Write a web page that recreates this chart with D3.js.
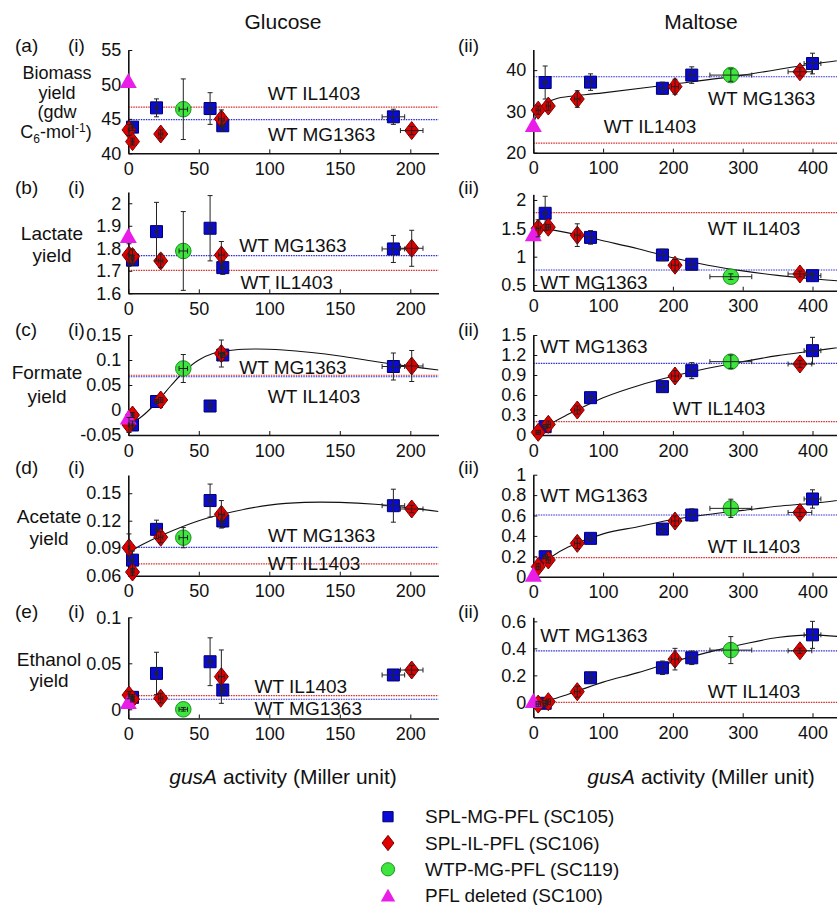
<!DOCTYPE html>
<html>
<head>
<meta charset="utf-8">
<script src="https://cdn.jsdelivr.net/npm/d3@7"></script>
<style>
  body { margin: 0; background: #fff; }
  text { font-family: Arial, "Liberation Sans", sans-serif; fill: #111; }
</style>
</head>
<body>
<div id="chart"></div>
<script>
// gusA activity (x) for each strain, glucose and maltose
var glcBlueX = [3, 20, 58, 67, 188],     glcBlueXErr = [1, 1, 1.5, 1.5, 8];
var glcRedX = [0.5, 3, 23, 66, 201],     glcRedXErr = [0.5, 1, 1.5, 2, 8];
var glcGreenX = [39],                    glcGreenXErr = [3];
var glcMagX = [0],                       glcMagXErr = [0];
var malBlueX = [17, 82, 185, 227, 400],  malBlueXErr = [3, 5, 5, 5, 12];
var malRedX = [7, 21.5, 63, 203, 382],   malRedXErr = [3, 3, 4, 5, 17];
var malGreenX = [283],                   malGreenXErr = [30];
var malMagX = [0],                       malMagXErr = [0];

// yields as [value, error]
var biomassGlcBlue = [[43.8, 0.5], [46.6, 1.3], [46.5, 2.3], [44.0, 0.7], [45.3, 1.1]];
var biomassGlcRed = [[43.4, 0.8], [41.7, 0.5], [42.8, 0.6], [45.0, 1.3], [43.3, 0.6]];
var biomassGlcGreen = [[46.4, 4.4]];
var biomassGlcMag = [[50.5, 0]];
var biomassMalBlue = [[37.0, 4], [37.1, 2], [35.6, 1.5], [38.8, 2], [41.6, 2.5]];
var biomassMalRed = [[30.3, 1], [31.3, 1], [33.0, 2], [36.0, 1.8], [39.6, 1.0]];
var biomassMalGreen = [[38.8, 1.5]];
var biomassMalMag = [[26.7, 0]];

var lactateGlcBlue = [[1.748, 0.02], [1.874, 0.13], [1.889, 0.145], [1.714, 0.03], [1.797, 0.06]];
var lactateGlcRed = [[1.77, 0.05], [1.763, 0.03], [1.744, 0.03], [1.77, 0.06], [1.8, 0.08]];
var lactateGlcGreen = [[1.788, 0.175]];
var lactateGlcMag = [[1.855, 0]];
var lactateMalBlue = [[1.765, 0.3], [1.34, 0.12], [1.03, 0.1], [0.866, 0.08], [0.665, 0.05]];
var lactateMalRed = [[1.5, 0.15], [1.52, 0.05], [1.38, 0.2], [0.85, 0.1], [0.695, 0.05]];
var lactateMalGreen = [[0.647, 0.05]];
var lactateMalMag = [[1.395, 0]];

var formateGlcBlue = [[-0.03, 0.008], [0.017, 0.004], [0.008, 0.008], [0.11, 0.005], [0.087, 0.027]];
var formateGlcRed = [[-0.03, 0.015], [-0.01, 0.005], [0.02, 0.005], [0.113, 0.027], [0.088, 0.031]];
var formateGlcGreen = [[0.083, 0.028]];
var formateGlcMag = [[-0.015, 0]];
var formateMalBlue = [[0.125, 0.03], [0.56, 0.05], [0.725, 0.06], [0.965, 0.12], [1.265, 0.2]];
var formateMalRed = [[0.04, 0.03], [0.16, 0.05], [0.375, 0.06], [0.885, 0.08], [1.065, 0.05]];
var formateMalGreen = [[1.1, 0.1]];
var formateMalMag = [];

var acetateGlcBlue = [[0.077, 0.01], [0.1106, 0.01], [0.142, 0.018], [0.1197, 0.007], [0.1364, 0.018]];
var acetateGlcRed = [[0.0906, 0.015], [0.064, 0.004], [0.102, 0.006], [0.127, 0.015], [0.1328, 0.004]];
var acetateGlcGreen = [[0.1015, 0.011]];
var acetateGlcMag = [];
var acetateMalBlue = [[0.196, 0.02], [0.376, 0.03], [0.467, 0.04], [0.605, 0.06], [0.762, 0.09]];
var acetateMalRed = [[0.098, 0.03], [0.164, 0.03], [0.327, 0.05], [0.546, 0.05], [0.63, 0.04]];
var acetateMalGreen = [[0.67, 0.09]];
var acetateMalMag = [[0.02, 0]];

var ethanolGlcBlue = [[0.013, 0.003], [0.039, 0.023], [0.0517, 0.026], [0.021, 0.003], [0.0373, 0.004]];
var ethanolGlcRed = [[0.0155, 0.004], [0.011, 0.003], [0.012, 0.005], [0.0355, 0.029], [0.0427, 0.005]];
var ethanolGlcGreen = [[0.0, 0.002]];
var ethanolGlcMag = [[0.008, 0]];
var ethanolMalBlue = [[-0.007, 0.02], [0.182, 0.03], [0.256, 0.05], [0.33, 0.05], [0.5, 0.1]];
var ethanolMalRed = [[-0.013, 0.02], [0.005, 0.02], [0.079, 0.04], [0.32, 0.08], [0.382, 0.02]];
var ethanolMalGreen = [[0.387, 0.1]];
var ethanolMalMag = [[0.01, 0]];

// wild type reference levels [IL1403, MG1363]
var biomassGlcWT = [46.7, 44.9],  biomassMalWT = [22.3, 38.4];
var lactateGlcWT = [1.702, 1.767], lactateMalWT = [1.776, 0.765];
var formateGlcWT = [0.0695, 0.0665], formateMalWT = [0.2, 1.075];
var acetateGlcWT = [0.073, 0.091], acetateMalWT = [0.187, 0.605];
var ethanolGlcWT = [0.0148, 0.0109], ethanolMalWT = [0.0, 0.382];

// fitted curves
var biomassMalFit = [[0, 27], [10, 30.7], [20, 32.2], [35, 33.2], [50, 33.6], [100, 34.5], [200, 36.6], [300, 38.8], [400, 41.5], [450, 42.6]];
var lactateMalFit = [[0, 1.53], [50, 1.42], [100, 1.28], [150, 1.14], [200, 0.98], [250, 0.85], [300, 0.75], [350, 0.67], [400, 0.61], [450, 0.56]];
var formateGlcFit = [[0, -0.03], [10, -0.012], [20, 0.015], [30, 0.048], [40, 0.078], [50, 0.1], [60, 0.113], [75, 0.12], [90, 0.122], [110, 0.12], [130, 0.115], [150, 0.108], [175, 0.097], [200, 0.087], [220, 0.08]];
var formateMalFit = [[0, 0], [25, 0.17], [50, 0.31], [75, 0.44], [100, 0.56], [150, 0.74], [200, 0.88], [250, 1.0], [300, 1.1], [350, 1.19], [400, 1.26], [450, 1.33]];
var acetateGlcFit = [[0, 0.085], [10, 0.094], [25, 0.105], [50, 0.12], [75, 0.13], [100, 0.137], [125, 0.14], [150, 0.14], [175, 0.138], [200, 0.134], [220, 0.13]];
var acetateMalFit = [[0, 0], [10, 0.1], [25, 0.19], [50, 0.29], [100, 0.42], [150, 0.49], [200, 0.56], [250, 0.61], [300, 0.65], [350, 0.69], [400, 0.72], [450, 0.76]];
var ethanolMalFit = [[0, 0], [25, 0.02], [50, 0.06], [100, 0.15], [150, 0.22], [200, 0.3], [250, 0.37], [300, 0.43], [350, 0.48], [400, 0.5], [450, 0.48]];

var glcXTicks = [0, 50, 100, 150, 200];
var malXTicks = [0, 100, 200, 300, 400];

var legendLabels = ["SPL-MG-PFL (SC105)", "SPL-IL-PFL (SC106)", "WTP-MG-PFL (SC119)", "PFL deleted (SC100)"];

var svg = d3.select("#chart").append("svg")
  .attr("width", 837)
  .attr("height", 905);

var xGlc = d3.scaleLinear().domain([0, 220]).range([128.3, 438.5]);
var xMal = d3.scaleLinear().domain([0, 450]).range([533.3, 847.4]);

var style = {
  blue:  { shape: "square",   fill: "#0a0ad8", stroke: "#00006a" },
  red:   { shape: "diamond",  fill: "#e00000", stroke: "#7a0000" },
  green: { shape: "circle",   fill: "#3ce63c", stroke: "#1f8f1f" },
  mag:   { shape: "triangle", fill: "#e81ee8", stroke: "none" }
};

function markerPath(shape, s) {
  s = s || 1;
  if (shape === "square") return `M${-6 * s},${-6 * s}H${6 * s}V${6 * s}H${-6 * s}Z`;
  if (shape === "diamond") return `M0,${-9 * s}L${7 * s},0L0,${9 * s}L${-7 * s},0Z`;
  if (shape === "triangle") return `M0,${-8 * s}L${8.5 * s},${7 * s}L${-8.5 * s},${7 * s}Z`;
  return d3.symbol(d3.symbolCircle, 190 * s * s)();
}

// panel layout: range is [pixel bottom, pixel top]
var panels = [
  { id: "aG", x: xGlc, xt: glcXTicks, xs: [glcBlueX, glcRedX, glcGreenX, glcMagX], xe: [glcBlueXErr, glcRedXErr, glcGreenXErr, glcMagXErr],
    data: [biomassGlcBlue, biomassGlcRed, biomassGlcGreen, biomassGlcMag], wt: biomassGlcWT, fit: null,
    domain: [40, 55], range: [153.3, 50], ticks: [40, 45, 50, 55], il: [314, 93.3], mg: [321.7, 134] },
  { id: "aM", x: xMal, xt: malXTicks, xs: [malBlueX, malRedX, malGreenX, malMagX], xe: [malBlueXErr, malRedXErr, malGreenXErr, malMagXErr],
    data: [biomassMalBlue, biomassMalRed, biomassMalGreen, biomassMalMag], wt: biomassMalWT, fit: biomassMalFit,
    domain: [20, 45], range: [152.7, 49.5], ticks: [20, 30, 40], il: [650, 126.7], mg: [761.7, 98.3] },
  { id: "bG", x: xGlc, xt: glcXTicks, xs: [glcBlueX, glcRedX, glcGreenX, glcMagX], xe: [glcBlueXErr, glcRedXErr, glcGreenXErr, glcMagXErr],
    data: [lactateGlcBlue, lactateGlcRed, lactateGlcGreen, lactateGlcMag], wt: lactateGlcWT, fit: null,
    domain: [1.6, 2.05], range: [293.3, 192], ticks: [1.6, 1.7, 1.8, 1.9, 2], il: [286.7, 282.3], mg: [293, 245] },
  { id: "bM", x: xMal, xt: malXTicks, xs: [malBlueX, malRedX, malGreenX, malMagX], xe: [malBlueXErr, malRedXErr, malGreenXErr, malMagXErr],
    data: [lactateMalBlue, lactateMalRed, lactateMalGreen, lactateMalMag], wt: lactateMalWT, fit: lactateMalFit,
    domain: [0.4, 2.1], range: [290.7, 194.3], ticks: [0.5, 1, 1.5, 2], il: [754, 228.3], mg: [594, 282.3] },
  { id: "cG", x: xGlc, xt: glcXTicks, xs: [glcBlueX, glcRedX, glcGreenX, glcMagX], xe: [glcBlueXErr, glcRedXErr, glcGreenXErr, glcMagXErr],
    data: [formateGlcBlue, formateGlcRed, formateGlcGreen, formateGlcMag], wt: formateGlcWT, fit: formateGlcFit,
    domain: [-0.05, 0.15], range: [435, 335], ticks: [-0.05, 0, 0.05, 0.1, 0.15], il: [314, 396.7], mg: [293, 367.3] },
  { id: "cM", x: xMal, xt: malXTicks, xs: [malBlueX, malRedX, malGreenX, malMagX], xe: [malBlueXErr, malRedXErr, malGreenXErr, malMagXErr],
    data: [formateMalBlue, formateMalRed, formateMalGreen, formateMalMag], wt: formateMalWT, fit: formateMalFit,
    domain: [0, 1.5], range: [435, 335], ticks: [0, 0.3, 0.6, 0.9, 1.2, 1.5], il: [719, 408.3], mg: [594, 346.7] },
  { id: "dG", x: xGlc, xt: glcXTicks, xs: [glcBlueX, glcRedX, glcGreenX, glcMagX], xe: [glcBlueXErr, glcRedXErr, glcGreenXErr, glcMagXErr],
    data: [acetateGlcBlue, acetateGlcRed, acetateGlcGreen, acetateGlcMag], wt: acetateGlcWT, fit: acetateGlcFit,
    domain: [0.06, 0.17], range: [575.7, 474.9], ticks: [0.06, 0.09, 0.12, 0.15], il: [314, 563.3], mg: [321.7, 535] },
  { id: "dM", x: xMal, xt: malXTicks, xs: [malBlueX, malRedX, malGreenX, malMagX], xe: [malBlueXErr, malRedXErr, malGreenXErr, malMagXErr],
    data: [acetateMalBlue, acetateMalRed, acetateMalGreen, acetateMalMag], wt: acetateMalWT, fit: acetateMalFit,
    domain: [0, 1], range: [576.7, 474.7], ticks: [0, 0.2, 0.4, 0.6, 0.8, 1], il: [754, 546], mg: [594, 495] },
  { id: "eG", x: xGlc, xt: glcXTicks, xs: [glcBlueX, glcRedX, glcGreenX, glcMagX], xe: [glcBlueXErr, glcRedXErr, glcGreenXErr, glcMagXErr],
    data: [ethanolGlcBlue, ethanolGlcRed, ethanolGlcGreen, ethanolGlcMag], wt: ethanolGlcWT, fit: null,
    domain: [-0.01, 0.1], range: [718.5, 617.3], ticks: [0, 0.05, 0.1], il: [300.8, 686], mg: [308.3, 708.3] },
  { id: "eM", x: xMal, xt: malXTicks, xs: [malBlueX, malRedX, malGreenX, malMagX], xe: [malBlueXErr, malRedXErr, malGreenXErr, malMagXErr],
    data: [ethanolMalBlue, ethanolMalRed, ethanolMalGreen, ethanolMalMag], wt: ethanolMalWT, fit: ethanolMalFit,
    domain: [-0.11, 0.63], range: [717.2, 617.3], ticks: [0, 0.2, 0.4, 0.6], il: [754, 691.7], mg: [594, 635] }
];

var keys = ["blue", "red", "green", "mag"];

panels.forEach(function(p) {
  var x = p.x;
  var y = d3.scaleLinear().domain(p.domain).range(p.range);
  var g = svg.append("g");
  var x0 = x.range()[0], x1 = x.range()[1];

  svg.append("clipPath").attr("id", "clip-" + p.id)
    .append("rect")
    .attr("x", x0).attr("y", p.range[1])
    .attr("width", x1 - x0).attr("height", p.range[0] - p.range[1]);

  // WT reference lines
  g.append("line")
    .attr("x1", x0).attr("x2", x1)
    .attr("y1", y(p.wt[0])).attr("y2", y(p.wt[0]))
    .attr("stroke", "#d42a2a").attr("stroke-width", 1.2)
    .attr("stroke-dasharray", "1.5,1");
  g.append("line")
    .attr("x1", x0).attr("x2", x1)
    .attr("y1", y(p.wt[1])).attr("y2", y(p.wt[1]))
    .attr("stroke", "#2a2ad4").attr("stroke-width", 1.2)
    .attr("stroke-dasharray", "1.5,1");

  g.append("text").attr("x", p.il[0]).attr("y", p.il[1]).attr("dy", "0.35em")
    .attr("text-anchor", "middle").attr("font-size", 19).text("WT IL1403");
  g.append("text").attr("x", p.mg[0]).attr("y", p.mg[1]).attr("dy", "0.35em")
    .attr("text-anchor", "middle").attr("font-size", 19).text("WT MG1363");

  if (p.fit) {
    g.append("path")
      .datum(p.fit)
      .attr("clip-path", "url(#clip-" + p.id + ")")
      .attr("fill", "none")
      .attr("stroke", "#111")
      .attr("stroke-width", 1.1)
      .attr("d", d3.line().x(d => x(d[0])).y(d => y(d[1])).curve(d3.curveCatmullRom));
  }

  // axes
  var xAxis = g.append("g")
    .attr("transform", `translate(0, ${p.range[0]})`)
    .call(d3.axisBottom(x).tickValues(p.xt).tickSize(-4).tickSizeOuter(0).tickPadding(9))
    .attr("font-size", 18)
    .attr("font-family", "Arial, 'Liberation Sans', sans-serif");
  var yAxis = g.append("g")
    .attr("transform", `translate(${x0}, 0)`)
    .call(d3.axisLeft(y).tickValues(p.ticks).tickSize(-4).tickSizeOuter(0).tickPadding(7)
      .tickFormat(d => String(d)))
    .attr("font-size", 18)
    .attr("font-family", "Arial, 'Liberation Sans', sans-serif");
  [xAxis, yAxis].forEach(function(a) {
    a.select(".domain").attr("stroke", "#111").attr("stroke-width", 1.6);
    a.selectAll(".tick line").attr("stroke", "#111");
    a.selectAll(".tick text").attr("fill", "#111");
  });

  // points
  var pts = g.append("g");
  keys.forEach(function(k, i) {
    p.data[i].forEach(function(v, j) {
      var cx = x(p.xs[i][j]), cy = y(v[0]);
      pts.append("path")
        .attr("transform", `translate(${cx}, ${cy})`)
        .attr("d", markerPath(style[k].shape))
        .attr("fill", style[k].fill)
        .attr("stroke", style[k].stroke)
        .attr("stroke-width", 1);
    });
  });

  // error bars on top of markers
  var bars = g.append("g").attr("stroke", "#222").attr("stroke-width", 1);
  keys.forEach(function(k, i) {
    if (k === "mag") return;
    p.data[i].forEach(function(v, j) {
      var xv = p.xs[i][j], xe = p.xe[i][j];
      var cx = x(xv), cy = y(v[0]);
      var ya = y(v[0] - v[1]), yb = y(v[0] + v[1]);
      bars.append("line").attr("x1", cx).attr("x2", cx).attr("y1", ya).attr("y2", yb);
      bars.append("line").attr("x1", cx - 2.5).attr("x2", cx + 2.5).attr("y1", ya).attr("y2", ya);
      bars.append("line").attr("x1", cx - 2.5).attr("x2", cx + 2.5).attr("y1", yb).attr("y2", yb);
      var xa = x(xv - xe), xb = x(xv + xe);
      bars.append("line").attr("x1", xa).attr("x2", xb).attr("y1", cy).attr("y2", cy);
      bars.append("line").attr("x1", xa).attr("x2", xa).attr("y1", cy - 2.5).attr("y2", cy + 2.5);
      bars.append("line").attr("x1", xb).attr("x2", xb).attr("y1", cy - 2.5).attr("y2", cy + 2.5);
    });
  });
});

// headers and panel tags
svg.append("text").attr("x", 283).attr("y", 29).attr("text-anchor", "middle").attr("font-size", 21).text("Glucose");
svg.append("text").attr("x", 701).attr("y", 29).attr("text-anchor", "middle").attr("font-size", 21).text("Maltose");

var rowTags = [["(a)", 45], ["(b)", 187], ["(c)", 329], ["(d)", 467], ["(e)", 611]];
rowTags.forEach(function(r) {
  svg.append("text").attr("x", 15).attr("y", r[1]).attr("dy", "0.35em").attr("font-size", 19).text(r[0]);
  svg.append("text").attr("x", 68).attr("y", r[1]).attr("dy", "0.35em").attr("font-size", 19).text("(i)");
  svg.append("text").attr("x", 458).attr("y", r[1]).attr("dy", "0.35em").attr("font-size", 19).text("(ii)");
});

// y labels
var yLabels = [
  [57, 18, [["Biomass", 73], ["yield", 93], ["(gdw", 112]]],
  [52, 19, [["Lactate", 233], ["yield", 255]]],
  [47, 19, [["Formate", 372.7], ["yield", 396.7]]],
  [49, 19, [["Acetate", 516.7], ["yield", 538.3]]],
  [49, 19, [["Ethanol", 659.3], ["yield", 680]]]
];
yLabels.forEach(function(l) {
  l[2].forEach(function(t) {
    svg.append("text").attr("x", l[0]).attr("y", t[1]).attr("dy", "0.35em")
      .attr("text-anchor", "middle").attr("font-size", l[1]).text(t[0]);
  });
});
var unit = svg.append("text").attr("x", 56).attr("y", 132).attr("dy", "0.35em")
  .attr("text-anchor", "middle").attr("font-size", 18);
unit.append("tspan").text("C");
unit.append("tspan").attr("font-size", 12).attr("dy", "5").text("6");
unit.append("tspan").attr("dy", "-5").text("-mol");
unit.append("tspan").attr("font-size", 12).attr("dy", "-6").text("-1");
unit.append("tspan").attr("dy", "6").text(")");

// x axis titles
[283, 701].forEach(function(cx) {
  var t = svg.append("text").attr("x", cx).attr("y", 777).attr("dy", "0.35em")
    .attr("text-anchor", "middle").attr("font-size", 21);
  t.append("tspan").attr("font-style", "italic").text("gusA");
  t.append("tspan").text(" activity (Miller unit)");
});

// legend
var legY = [816.7, 843, 869.3, 895.6];
keys.forEach(function(k, i) {
  svg.append("path")
    .attr("transform", `translate(388, ${legY[i]})`)
    .attr("d", markerPath(style[k].shape, 0.85))
    .attr("fill", style[k].fill)
    .attr("stroke", style[k].stroke);
  svg.append("text").attr("x", 425).attr("y", legY[i]).attr("dy", "0.35em")
    .attr("font-size", 19).text(legendLabels[i]);
});
</script>
</body>
</html>
